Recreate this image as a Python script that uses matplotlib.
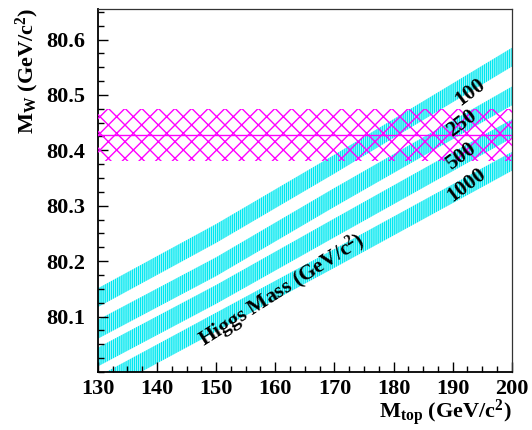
import matplotlib
matplotlib.use("Agg")
import matplotlib.pyplot as plt
import numpy as np
from matplotlib.ticker import MultipleLocator

# ---- data ----
mtop = [130, 150, 170, 200]
mw_h100 = [80.134, 80.250, 80.375, 80.568]
mw_h250 = [80.077, 80.190, 80.315, 80.498]
mw_h500 = [80.027, 80.140, 80.260, 80.439]
mw_h1000 = [79.975, 80.090, 80.205, 80.380]
band_halfwidth = 0.017
higgs_labels = ["100", "250", "500", "1000"]
label_mt = [192.9, 191.5, 191.5, 192.4]
label_mw = [80.505, 80.448, 80.389, 80.337]
mw_meas = 80.427
mw_err = 0.047
xticks = [130, 140, 150, 160, 170, 180, 190, 200]
yticks = [80.1, 80.2, 80.3, 80.4, 80.5, 80.6]

plt.rcParams['mathtext.fontset'] = 'custom'
plt.rcParams['mathtext.rm'] = 'Liberation Serif:bold'
plt.rcParams['mathtext.it'] = 'Liberation Serif:bold'
plt.rcParams['mathtext.bf'] = 'Liberation Serif:bold'
plt.rcParams['font.family'] = ['Liberation Serif']
plt.rcParams['font.weight'] = 'bold'
plt.rcParams['hatch.linewidth'] = 1.0
plt.rcParams['hatch.color'] = '#00e8f0'

fig = plt.figure(figsize=(5.32, 4.30), dpi=100)
ax = fig.add_axes([0.184, 0.135, 0.778, 0.844])

for series in [mw_h100, mw_h250, mw_h500, mw_h1000]:
    y = np.array(series)
    ax.fill_between(mtop, y - band_halfwidth, y + band_halfwidth,
                    facecolor='#dcfcfd', edgecolor='#00e8f0', hatch='||||||||',
                    linewidth=0)

ax.fill_between([130, 200], mw_meas - mw_err, mw_meas + mw_err,
                facecolor='none', edgecolor='#ff00ff', hatch='xx', linewidth=0,
                zorder=3)
ax.axhline(mw_meas, color='#ff00ff', lw=1.0, zorder=3)

for lab, xm, ym in zip(higgs_labels, label_mt, label_mw):
    ax.text(xm, ym, lab, rotation=37, ha='center', va='center',
            fontsize=15.5, fontweight='bold', zorder=4)
ax.text(161.1, 80.148, r'Higgs Mass (GeV/c$^{2}$)', rotation=32.5,
        ha='center', va='center', fontsize=15.5, fontweight='bold', zorder=4)

ax.set_xlim(130, 200)
ax.set_ylim(80.0, 80.655)
ax.set_xticks(xticks)
ax.set_yticks(yticks)
ax.set_xticklabels([str(v) for v in xticks])
ax.set_yticklabels([f"{v:.1f}" for v in yticks])
ax.xaxis.set_minor_locator(MultipleLocator(2.5))
ax.yaxis.set_minor_locator(MultipleLocator(0.025))
ax.tick_params(which='both', direction='in', top=False, right=False,
               labelsize=16, width=1.0)
ax.tick_params(which='major', length=7)
ax.tick_params(axis='x', which='major', pad=5)
ax.tick_params(axis='y', which='major', pad=9)
ax.tick_params(which='minor', length=4)
for lab in ax.get_xticklabels() + ax.get_yticklabels():
    lab.set_fontweight('bold')
for side in ['left', 'bottom']:
    ax.spines[side].set_linewidth(1.3)
for side in ['top', 'right']:
    ax.spines[side].set_linewidth(0.9)
    ax.spines[side].set_color('#333333')

fig.text(0.962, 0.005, r'M$_{\mathrm{top}}$ (GeV/c$^{2}$)', ha='right',
         va='bottom', fontsize=16, fontweight='bold')
fig.text(0.025, 0.982, r'M$_{\mathrm{W}}$ (GeV/c$^{2}$)', ha='left',
         va='top', rotation=90, fontsize=16, fontweight='bold')

fig.savefig('out.png', dpi=100)
